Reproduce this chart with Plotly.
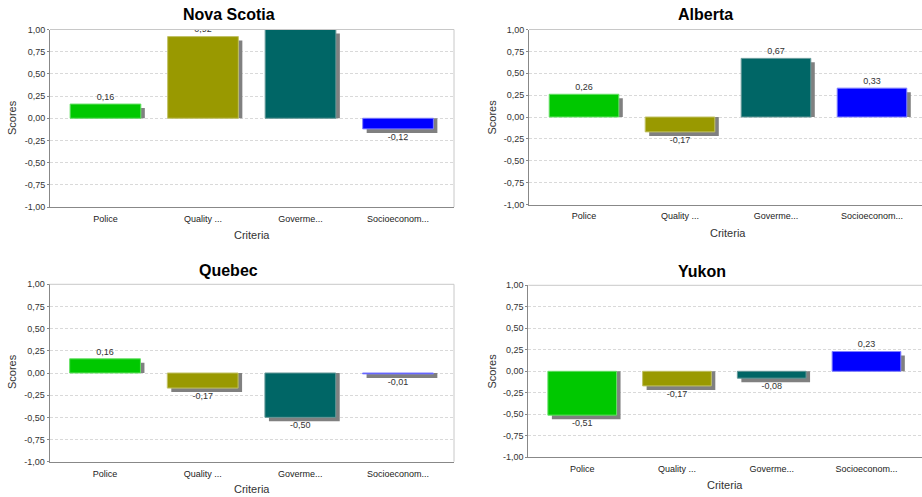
import plotly.graph_objects as go

# ---- data -------------------------------------------------------------
categories = ["Police", "Quality ...", "Goverme...", "Socioeconom..."]
provinces = ["Nova Scotia", "Alberta", "Quebec", "Yukon"]
nova_scotia = [0.16, 0.92, 1.00, -0.12]
alberta = [0.26, -0.17, 0.67, 0.33]
quebec = [0.16, -0.17, -0.50, -0.01]
yukon = [-0.51, -0.17, -0.08, 0.23]
y_ticks = [-1.0, -0.75, -0.5, -0.25, 0.0, 0.25, 0.5, 0.75, 1.0]

# ---- styling ----------------------------------------------------------
bar_colors = ["#00c800", "#999900", "#006666", "#0000ff"]
outline_colors = ["#66e066", "#c2c266", "#669999", "#8080ff"]
shadow_color = "#808080"
FONT = "Liberation Sans, Arial, sans-serif"
W, H = 922, 497
BAR_W = 0.725          # bar width in category units
SHADOW_PX = 4          # shadow offset right/down in pixels

def fmt(v):
    return f"{v:.2f}".replace(".", ",")

# plot boxes in pixels (left, right, top, bottom), x range, and text anchors
panels = [
    dict(name=provinces[0], values=nova_scotia, box=(50, 454, 29.5, 207),
         xr=(-0.569, 3.574), title=(229, 15), ylab=(12, 118), xlab=(252, 235.5),
         right_border=True),
    dict(name=provinces[1], values=alberta, box=(529, 922, 29.5, 204.5),
         xr=(-0.573, 3.521), title=(705.5, 15), ylab=(491.5, 117), xlab=(728, 232.5),
         right_border=False),
    dict(name=provinces[2], values=quebec, box=(49.5, 454, 284.3, 461.7),
         xr=(-0.569, 3.574), title=(228.5, 270), ylab=(12, 372), xlab=(252, 489),
         right_border=True),
    dict(name=provinces[3], values=yukon, box=(528.3, 922, 285.3, 457.3),
         xr=(-0.569, 3.586), title=(701.5, 271.5), ylab=(491.5, 371), xlab=(724.5, 484.5),
         right_border=False),
]

fig = go.Figure()
layout = dict(
    template="none",
    width=W, height=H, margin=dict(l=0, r=0, t=0, b=0, pad=0, autoexpand=False),
    paper_bgcolor="white", plot_bgcolor="white",
    barmode="overlay", showlegend=False,
    font=dict(family=FONT, color="#333333"),
)
shapes, annotations = [], []

for i, p in enumerate(panels, start=1):
    left, right, top, bottom = p["box"]
    x0, x1 = p["xr"]
    ux = (x1 - x0) / (right - left)     # category units per pixel
    uy = 2.0 / (bottom - top)            # score units per pixel
    sfx = "" if i == 1 else str(i)
    xa, ya = f"x{sfx}", f"y{sfx}"
    vals = p["values"]

    # pegged drop shadow behind each bar
    fig.add_trace(go.Bar(
        x=categories, y=[v - SHADOW_PX * uy for v in vals], base=0,
        width=BAR_W, offset=-BAR_W / 2 + SHADOW_PX * ux,
        marker=dict(color=shadow_color, line=dict(width=0)),
        xaxis=xa, yaxis=ya, hoverinfo="skip"))
    # the bars
    fig.add_trace(go.Bar(
        x=categories, y=vals, width=BAR_W, offset=-BAR_W / 2,
        marker=dict(color=bar_colors, line=dict(color=outline_colors, width=1)),
        xaxis=xa, yaxis=ya))
    # value labels
    fig.add_trace(go.Scatter(
        x=categories,
        y=[v + 6.5 * uy if v >= 0 else v - 8.5 * uy for v in vals],
        mode="text", text=[fmt(v) for v in vals], textposition="middle center",
        textfont=dict(family=FONT, size=9, color="#333333"),
        cliponaxis=True, xaxis=xa, yaxis=ya, hoverinfo="skip"))

    layout[f"xaxis{sfx}"] = dict(
        domain=[left / W, right / W], range=[x0, x1], anchor=ya, automargin=False,
        showline=True, linecolor="#888888", linewidth=1,
        showgrid=False, zeroline=False, ticks="", ticklabelstandoff=3,
        tickfont=dict(family=FONT, size=9, color="#222222"), fixedrange=True)
    layout[f"yaxis{sfx}"] = dict(
        domain=[1 - bottom / H, 1 - top / H], range=[-1, 1], anchor=xa, automargin=False,
        tickvals=y_ticks, ticktext=[fmt(t) for t in y_ticks],
        showline=True, linecolor="#888888", linewidth=1,
        ticks="outside", ticklen=2, tickcolor="#888888",
        showgrid=True, gridcolor="#d9d9d9", gridwidth=1, griddash="3px,2px",
        zeroline=False, tickfont=dict(family=FONT, size=9, color="#333333"),
        fixedrange=True)

    # top / right plot border
    shapes.append(dict(type="line", xref=f"{xa} domain", yref=f"{ya} domain",
                       x0=0, x1=1, y0=1, y1=1, line=dict(color="#c8c8c8", width=1)))
    if p["right_border"]:
        shapes.append(dict(type="line", xref=f"{xa} domain", yref=f"{ya} domain",
                           x0=1, x1=1, y0=0, y1=1, line=dict(color="#c8c8c8", width=1)))

    tx, ty = p["title"]
    annotations.append(dict(text=f"<b>{p['name']}</b>", x=tx / W, y=1 - ty / H,
                            xref="paper", yref="paper", showarrow=False,
                            xanchor="center", yanchor="middle",
                            font=dict(family=FONT, size=16, color="#000000")))
    lx, ly = p["ylab"]
    annotations.append(dict(text="Scores", x=lx / W, y=1 - ly / H, textangle=-90,
                            xref="paper", yref="paper", showarrow=False,
                            xanchor="center", yanchor="middle",
                            font=dict(family=FONT, size=11, color="#333333")))
    cx, cy = p["xlab"]
    annotations.append(dict(text="Criteria", x=cx / W, y=1 - cy / H,
                            xref="paper", yref="paper", showarrow=False,
                            xanchor="center", yanchor="middle",
                            font=dict(family=FONT, size=11, color="#333333")))

layout["shapes"] = shapes
layout["annotations"] = annotations
fig.update_layout(**layout)
fig.write_html("out.html")
